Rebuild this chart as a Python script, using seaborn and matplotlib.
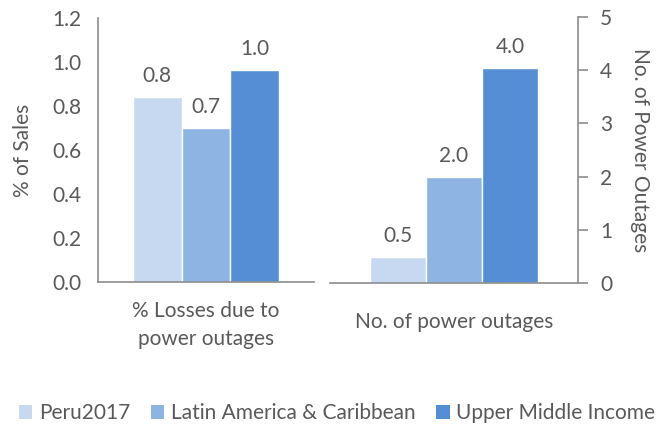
import matplotlib
matplotlib.use("Agg")
import matplotlib.pyplot as plt
from matplotlib.patches import Patch
import seaborn as sns
import pandas as pd

series = ["Peru2017", "Latin America & Caribbean", "Upper Middle Income"]
colors = ["#C6D9F1", "#8EB4E3", "#558ED5"]
losses = [0.84, 0.70, 0.965]
outages = [0.49, 1.99, 4.04]
loss_label = "% Losses due to\npower outages"
outage_label = "No. of power outages"

sns.set_style("white")
plt.rcParams["font.family"] = ["Lato", "DejaVu Sans"]
grey = "#595959"
spine_c = "#8C8C8C"
fs = 15

fig = plt.figure(figsize=(6.67, 4.24), dpi=100)
ax1 = fig.add_axes([98 / 667, 142 / 424, 216 / 667, 264 / 424])
ax2 = fig.add_axes([330 / 667, 141 / 424, 248 / 667, 266 / 424])

df1 = pd.DataFrame({"metric": loss_label, "series": series, "value": losses})
df2 = pd.DataFrame({"metric": outage_label, "series": series, "value": outages})

for ax, df in [(ax1, df1), (ax2, df2)]:
    sns.barplot(data=df, x="metric", y="value", hue="series", hue_order=series,
                palette=colors, ax=ax, legend=False, edgecolor="white",
                linewidth=1, saturation=1)
    for c in ax.containers:
        ax.bar_label(c, fmt="%.1f", padding=8, fontsize=fs, color=grey)
    ax.set_xlabel("")
    lim = 0.592
    ax.set_xlim(-lim, lim)
    ax.set_xticks([-lim, lim], minor=True)
    ax.tick_params(axis="x", which="major", length=0, labelsize=fs,
                   labelcolor=grey, pad=14)
    ax.tick_params(axis="x", which="minor", length=7, width=1.2, color=spine_c,
                   direction="out")
    ax.tick_params(axis="y", length=7, width=1.2, color=spine_c,
                   labelsize=fs, labelcolor=grey, direction="out", pad=5)
    for s in ax.spines.values():
        s.set_visible(False)
    ax.spines["bottom"].set_visible(True)
    ax.spines["bottom"].set_color(spine_c)
    ax.spines["bottom"].set_linewidth(1.2)

for t in ax1.get_xticklabels():
    t.set_linespacing(1.45)

ax1.set_ylim(0, 1.2)
ax1.set_yticks([0, 0.2, 0.4, 0.6, 0.8, 1.0, 1.2])
ax1.set_yticklabels([f"{v:.1f}" for v in ax1.get_yticks()])
ax1.spines["left"].set_visible(True)
ax1.spines["left"].set_color(spine_c)
ax1.spines["left"].set_linewidth(1.2)
ax1.set_ylabel("% of Sales", fontsize=fs, color=grey, labelpad=14)

ax2.set_ylim(0, 5)
ax2.set_yticks([0, 1, 2, 3, 4, 5])
ax2.yaxis.tick_right()
ax2.yaxis.set_label_position("right")
ax2.spines["right"].set_visible(True)
ax2.spines["right"].set_color(spine_c)
ax2.spines["right"].set_linewidth(1.2)
ax2.set_ylabel("No. of Power Outages", fontsize=fs, color=grey,
               rotation=270, labelpad=27)
ax2.tick_params(axis="y", pad=9)
ax2.tick_params(axis="x", which="major", pad=21)

handles = [Patch(facecolor=c, edgecolor="none", label=s) for c, s in zip(colors, series)]
leg = fig.legend(handles=handles, loc="lower center", bbox_to_anchor=(0.505, -0.043),
                 ncol=3, frameon=False, fontsize=fs, handlelength=0.65,
                 handleheight=0.65, handletextpad=0.3, columnspacing=1.0)
for t in leg.get_texts():
    t.set_color(grey)

fig.savefig("out.png", dpi=100)
